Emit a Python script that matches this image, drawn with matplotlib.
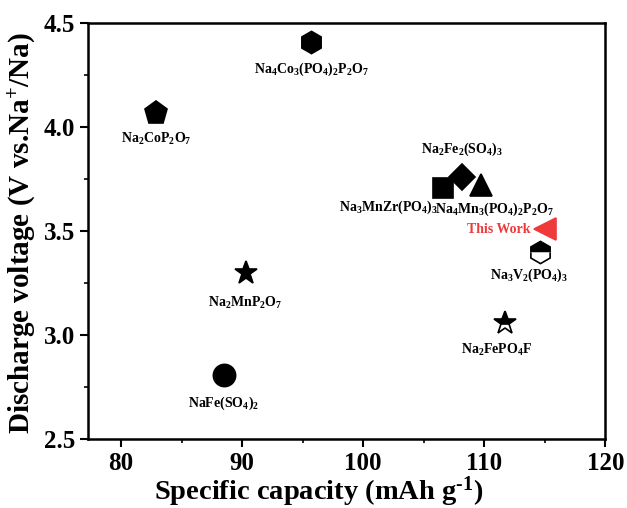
import matplotlib
matplotlib.use('Agg')
import matplotlib.pyplot as plt
from matplotlib.ticker import MultipleLocator, FormatStrFormatter

plt.rcParams['font.family'] = ['Liberation Serif', 'DejaVu Serif']
plt.rcParams['font.weight'] = 'bold'
plt.rcParams['mathtext.fontset'] = 'custom'
plt.rcParams['mathtext.rm'] = 'Liberation Serif:bold'
plt.rcParams['mathtext.bf'] = 'Liberation Serif:bold'
plt.rcParams['mathtext.it'] = 'Liberation Serif:bold'

# materials: capacity (mAh/g), voltage (V)
names = [r'$\mathrm{Na_4Co_3(PO_4)_2P_2O_7}$', r'$\mathrm{Na_2CoP_2O_7}$',
         r'$\mathrm{Na_2Fe_2(SO_4)_3}$', r'$\mathrm{Na_3MnZr(PO_4)_3}$',
         r'$\mathrm{Na_4Mn_3(PO_4)_2P_2O_7}$', 'This Work',
         r'$\mathrm{Na_3V_2(PO_4)_3}$', r'$\mathrm{Na_2FePO_4F}$',
         r'$\mathrm{Na_2MnP_2O_7}$', r'$\mathrm{NaFe(SO_4)_2}$']
capacity = [95.7, 82.9, 108.2, 106.6, 109.7, 115.0, 114.6, 111.7, 90.3, 88.5]
voltage = [4.41, 4.07, 3.76, 3.71, 3.72, 3.51, 3.40, 3.06, 3.30, 2.81]

# marker styles per point
markers = ['h', 'p', 'D', 's', '^', '<', 'h', '*', '*', 'o']
sizes = [16, 17, 13.5, 14.5, 16, 16.5, 16, 17, 17, 16]
fills = ['full', 'full', 'full', 'full', 'full', 'full', 'top', 'top', 'full', 'full']
colors = ['k', 'k', 'k', 'k', 'k', '#ee3a3a', 'k', 'k', 'k', 'k']
# label offsets in points (dx, dy) and alignment
offsets = [(0, -20), (0, -19), (0, 20), (-4, -14), (10, -17), (-10, 0),
           (-8, -17), (-6, -20), (0, -22), (0, -21)]
aligns = ['center', 'center', 'center', 'right', 'center', 'right',
          'center', 'center', 'center', 'center']

fig = plt.figure(figsize=(6.27, 5.08), dpi=100)
ax = fig.add_axes([0.1408, 0.1358, 0.8246, 0.8183])

for i in range(len(names)):
    ax.plot(capacity[i], voltage[i], marker=markers[i], markersize=sizes[i],
            color=colors[i], markerfacecolor=colors[i], markerfacecoloralt='white',
            markeredgecolor=colors[i], markeredgewidth=1.2, fillstyle=fills[i],
            linestyle='none', zorder=3)
    ax.annotate(names[i], (capacity[i], voltage[i]), xytext=offsets[i],
                textcoords='offset points', ha=aligns[i], va='center',
                fontsize=10, fontweight='bold', color=colors[i])

ax.set_xlim(77.3, 120)
ax.set_ylim(2.5, 4.5)
ax.xaxis.set_major_locator(MultipleLocator(10))
ax.xaxis.set_minor_locator(MultipleLocator(5))
ax.yaxis.set_major_locator(MultipleLocator(0.5))
ax.yaxis.set_minor_locator(MultipleLocator(0.25))
ax.yaxis.set_major_formatter(FormatStrFormatter('%.1f'))
ax.tick_params(which='major', direction='out', length=6, width=1.5, labelsize=18)
ax.tick_params(which='minor', direction='out', length=3, width=1.2)
for s in ax.spines.values():
    s.set_linewidth(1.8)

ax.set_xlabel(r'Specific capacity (mAh g$^{\text{-1}}$)', fontsize=20.5, fontweight='bold')
ax.set_ylabel(r'Discharge voltage (V vs.Na$^{\text{+}}$/Na)', fontsize=21, fontweight='bold')
ax.xaxis.set_label_coords(0.446, -0.085)
ax.yaxis.set_label_coords(-0.097, 0.495)

fig.savefig('out.png', dpi=100)
